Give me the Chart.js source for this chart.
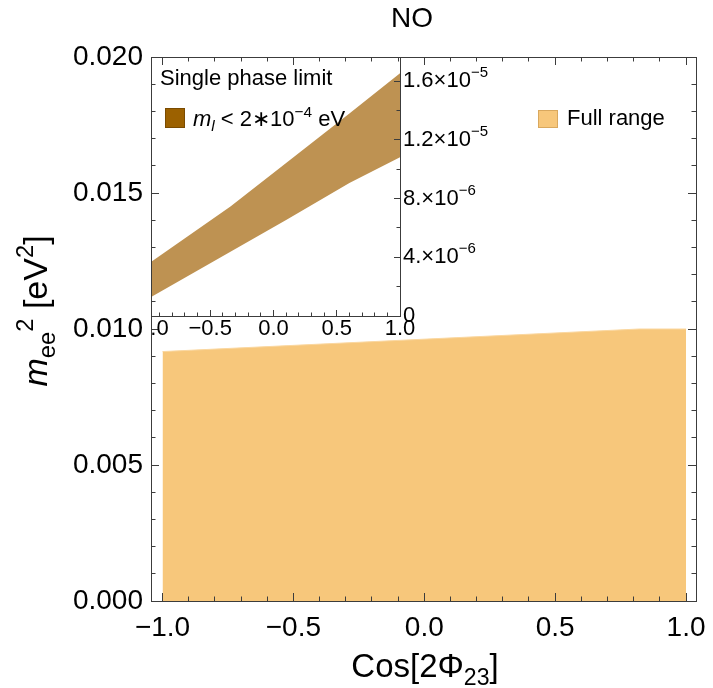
<!DOCTYPE html>
<html><head><meta charset="utf-8">
<script src="https://cdn.jsdelivr.net/npm/chart.js@4.4.1/dist/chart.umd.min.js"></script>
<style>
html,body{margin:0;padding:0;background:#fff;}
#wrap{position:relative;width:713px;height:688px;overflow:hidden;background:#fff;}
#main{position:absolute;left:0;top:0;}
#inset{position:absolute;left:152px;top:57px;}
</style></head><body>
<div id="wrap"><canvas id="main" width="713" height="688"></canvas><canvas id="inset" width="360" height="290"></canvas></div>
<script>
// ---------------- data ----------------
const titleText = 'NO';
const fullRangeLabel = 'Full range';
const fullX = [-1.0, 0.82, 1.0];
const fullY = [0.00917, 0.0100, 0.0100];

const bandX = [-1.0, -0.34, 0.1, 0.6, 1.0];
const bandLower = [1.14e-6, 4.37e-6, 6.55e-6, 9.06e-6, 10.82e-6];
const bandUpper = [3.49e-6, 7.46e-6, 10.43e-6, 13.8e-6, 16.55e-6];

const mainXTicks = [-1, -0.5, 0, 0.5, 1];
const mainXTickLabels = ['\u22121.0', '\u22120.5', '0.0', '0.5', '1.0'];
const mainYTicks = [0, 0.005, 0.010, 0.015, 0.020];
const mainYTickLabels = ['0.000', '0.005', '0.010', '0.015', '0.020'];

const insetXTicks = [-1, -0.5, 0, 0.5, 1];
const insetXTickLabels = ['\u22121.0', '\u22120.5', '0.0', '0.5', '1.0'];
const insetYTicks = [0, 4e-6, 8e-6, 1.2e-5, 1.6e-5];
const insetYTickMant = ['0', '4.\u00d710', '8.\u00d710', '1.2\u00d710', '1.6\u00d710'];
const insetYTickExp = ['', '\u22126', '\u22126', '\u22125', '\u22125'];
const insetLegendTitle = 'Single phase limit';

// ---------------- style ----------------
const FONT = '"Liberation Sans", Arial, Helvetica, sans-serif';
const FRAME = '#3c3c3c';
const FULL_COLOR = '#F7C77B';
const FULL_EDGE = '#FAD7A0';
const FULL_SWATCH_EDGE = '#D9A85E';
const BAND_COLOR = '#BE9252';
const BAND_SWATCH = '#9C6100';
const BAND_SWATCH_EDGE = '#7A4B00';

const MAIN_X = [-1.044, 1.038];
const MAIN_Y = [0, 0.020];
const INSET_X = [-0.96, 1.0];
const INSET_Y = [0, 1.765e-5];

Chart.defaults.font.family = FONT;
Chart.defaults.color = '#000';

function seq(a, b, step) {
  const out = []; const n = Math.round((b - a) / step);
  for (let i = 0; i <= n; i++) out.push(+(a + i * step).toFixed(12));
  return out;
}
const mainXMinor = seq(-1, 1, 0.1);
const mainYMinor = seq(0, 0.02, 0.001);
const insetXMinor = seq(-1, 1, 0.1);
const insetYMinor = seq(0, 1.6e-5, 2e-6);

function zeroPad(s) { s.paddingLeft = 0; s.paddingRight = 0; s.paddingTop = 0; s.paddingBottom = 0; }

function labelAxis(pos, range, ticks, labels, size, pad, fontSize, showLabels) {
  return {
    type: 'linear', position: pos, min: range[0], max: range[1], weight: 0,
    grid: { display: false, drawTicks: false },
    border: { display: true, color: FRAME, width: 1, z: 2 },
    ticks: { display: showLabels !== false, autoSkip: false, maxRotation: 0, minRotation: 0,
      padding: pad, color: '#000', font: { size: fontSize }, callback: (v, i) => labels[i] },
    afterBuildTicks: s => { s.ticks = ticks.map(v => ({ value: v })); },
    afterFit: s => { if (s.isHorizontal()) s.height = size; else s.width = size; zeroPad(s); }
  };
}
function tickAxis(pos, range, values, len, weight, border) {
  return {
    type: 'linear', position: pos, min: range[0], max: range[1], weight: weight,
    ticks: { display: false, autoSkip: false },
    grid: { display: true, drawOnChartArea: false, drawTicks: true, tickLength: -len,
      tickColor: FRAME, tickWidth: 1, z: 2 },
    border: { display: !!border, color: FRAME, width: 1, z: 2 },
    afterBuildTicks: s => { s.ticks = values.map(v => ({ value: v })); },
    afterFit: s => { if (s.isHorizontal()) s.height = 0; else s.width = 0; zeroPad(s); }
  };
}

function drawRich(ctx, runs, x, y, size, align) {
  const pieces = runs.map(r => {
    let s = size, dy = 0;
    if (r.sub) { s = size * 0.7; dy = size * 0.24; }
    if (r.sup) { s = size * 0.7; dy = -size * 0.42; }
    const font = (r.i ? 'italic ' : '') + s + 'px ' + FONT;
    ctx.font = font;
    return { t: r.t, font, dy, w: ctx.measureText(r.t).width };
  });
  const total = pieces.reduce((a, p) => a + p.w, 0);
  let cx = align === 'center' ? x - total / 2 : x;
  ctx.textAlign = 'left'; ctx.textBaseline = 'alphabetic';
  pieces.forEach(p => { ctx.font = p.font; ctx.fillText(p.t, cx, y + p.dy); cx += p.w; });
}

const xTitleRuns = [{ t: 'Cos[2\u03a6' }, { t: '23', sub: true }, { t: ']' }];
const yTitleRuns = [{ t: 'm', i: true }, { t: 'ee', sub: true }, { t: '2', sup: true }, { t: ' [eV' }, { t: '2', sup: true }, { t: ']' }];
const bandLabelRuns = [{ t: 'm', i: true }, { t: 'l', i: true, sub: true }, { t: ' < 2\u221710' }, { t: '\u22124', sup: true }, { t: ' eV' }];

// ---------------- main chart ----------------
const mainDecor = {
  id: 'mainDecor',
  afterDraw(chart) {
    const ctx = chart.ctx; const ds = chart.data.datasets[0];
    ctx.save();
    ctx.fillStyle = '#000'; ctx.font = '28px ' + FONT; ctx.textAlign = 'center'; ctx.textBaseline = 'middle';
    ctx.fillText(titleText, 412, 19);
    ctx.fillStyle = ds.backgroundColor; ctx.fillRect(538, 110, 20, 18);
    ctx.strokeStyle = FULL_SWATCH_EDGE; ctx.lineWidth = 1; ctx.strokeRect(538.5, 110.5, 19, 17);
    ctx.fillStyle = '#000'; ctx.font = '22px ' + FONT; ctx.textBaseline = 'middle'; ctx.textAlign = 'left';
    ctx.fillText(ds.label, 567, 119);
    drawRich(ctx, xTitleRuns, 425, 677, 33, 'center');
    ctx.translate(47, 311); ctx.rotate(-Math.PI / 2);
    drawRich(ctx, yTitleRuns, 0, 0, 34, 'center');
    ctx.restore();
  }
};

new Chart(document.getElementById('main'), {
  type: 'scatter',
  data: { datasets: [{
    label: fullRangeLabel,
    data: fullX.map((x, i) => ({ x: x, y: fullY[i] })),
    showLine: true, fill: 'origin', backgroundColor: FULL_COLOR, borderColor: FULL_EDGE,
    borderWidth: 1, pointRadius: 0, tension: 0
  }] },
  options: {
    responsive: false, animation: false, events: [],
    layout: { padding: { left: 0, right: 17, top: 57, bottom: 0 } },
    plugins: { legend: { display: false }, tooltip: { enabled: false }, title: { display: false } },
    scales: {
      x: labelAxis('bottom', MAIN_X, mainXTicks, mainXTickLabels, 87, 10, 28),
      xMajB: tickAxis('bottom', MAIN_X, mainXTicks, 8, -2, false),
      xMinB: tickAxis('bottom', MAIN_X, mainXMinor, 4.5, -1, false),
      xMajT: tickAxis('top', MAIN_X, mainXTicks, 8, -2, true),
      xMinT: tickAxis('top', MAIN_X, mainXMinor, 4.5, -1, false),
      y: labelAxis('left', MAIN_Y, mainYTicks, mainYTickLabels, 151, 8, 28),
      yMajL: tickAxis('left', MAIN_Y, mainYTicks, 8, -2, false),
      yMinL: tickAxis('left', MAIN_Y, mainYMinor, 4.5, -1, false),
      yMajR: tickAxis('right', MAIN_Y, mainYTicks, 8, -2, true),
      yMinR: tickAxis('right', MAIN_Y, mainYMinor, 4.5, -1, false)
    }
  },
  plugins: [mainDecor]
});

// ---------------- inset chart ----------------
const insetDecor = {
  id: 'insetDecor',
  afterDraw(chart) {
    const ctx = chart.ctx;
    const yS = chart.scales.y; const a = chart.chartArea;
    ctx.save();
    ctx.fillStyle = '#000'; ctx.textAlign = 'left'; ctx.textBaseline = 'middle';
    insetYTicks.forEach((v, i) => {
      const py = yS.getPixelForValue(v);
      ctx.font = '22px ' + FONT; ctx.textBaseline = 'middle';
      ctx.fillText(insetYTickMant[i], a.right + 3, py);
      const w = ctx.measureText(insetYTickMant[i]).width;
      if (insetYTickExp[i]) { ctx.font = '15px ' + FONT; ctx.fillText(insetYTickExp[i], a.right + 3 + w, py - 8); }
    });
    ctx.font = '22px ' + FONT; ctx.textBaseline = 'middle';
    ctx.fillText(insetLegendTitle, 8, 22);
    ctx.fillStyle = BAND_SWATCH; ctx.fillRect(13, 51, 20, 20);
    ctx.strokeStyle = BAND_SWATCH_EDGE; ctx.lineWidth = 1; ctx.strokeRect(13.5, 51.5, 19, 19);
    ctx.fillStyle = '#000';
    drawRich(ctx, bandLabelRuns, 41, 69, 22, 'left');
    ctx.restore();
  }
};

new Chart(document.getElementById('inset'), {
  type: 'scatter',
  data: { datasets: [
    { label: 'lower', data: bandX.map((x, i) => ({ x: x, y: bandLower[i] })), showLine: true, fill: false,
      borderColor: 'rgba(0,0,0,0)', borderWidth: 0, pointRadius: 0, tension: 0 },
    { label: 'upper', data: bandX.map((x, i) => ({ x: x, y: bandUpper[i] })), showLine: true, fill: '-1',
      backgroundColor: BAND_COLOR, borderColor: 'rgba(0,0,0,0)', borderWidth: 0, pointRadius: 0, tension: 0 }
  ] },
  options: {
    responsive: false, animation: false, events: [],
    layout: { padding: 0 },
    plugins: { legend: { display: false }, tooltip: { enabled: false }, title: { display: false } },
    scales: {
      x: labelAxis('bottom', INSET_X, insetXTicks, insetXTickLabels, 31, 0, 22),
      xMajB: tickAxis('bottom', INSET_X, insetXTicks, 6, -2, false),
      xMinB: tickAxis('bottom', INSET_X, insetXMinor, 3.5, -1, false),
      y: labelAxis('right', INSET_Y, insetYTicks, insetYTickMant, 112, 3, 22, false),
      yMajR: tickAxis('right', INSET_Y, insetYTicks, 6, -2, false),
      yMinR: tickAxis('right', INSET_Y, insetYMinor, 3.5, -1, false)
    }
  },
  plugins: [insetDecor]
});
</script>
</body></html>
